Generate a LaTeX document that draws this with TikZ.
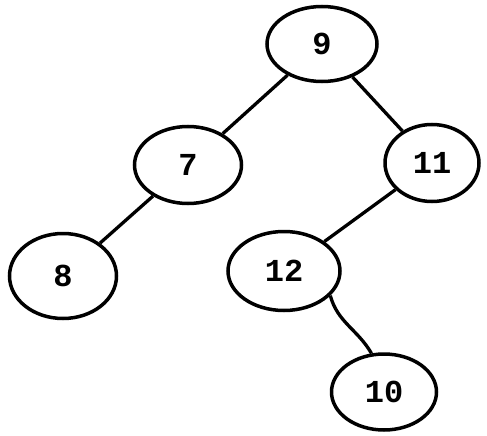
\documentclass[tikz,border=0pt]{standalone}
\usepackage{fontspec}
\newfontfamily\labfont{Liberation Mono}
\usetikzlibrary{shapes.geometric}
\begin{document}
\begin{tikzpicture}[x=1pt,y=-1pt,
  tnode/.style={draw, ellipse, line width=3.5pt, inner sep=0pt,
    font=\labfont\bfseries\fontsize{32}{32}\selectfont},
  tedge/.style={line width=3.3pt}]
\useasboundingbox (0,0) rectangle (487,436);
\node[tnode, minimum width=110pt, minimum height=75pt] (n9) at (322,44) {9};
\node[tnode, minimum width=107pt, minimum height=77pt] (n7) at (188,165) {7};
\node[tnode, minimum width=94pt, minimum height=77pt] (n11) at (432,163) {11};
\node[tnode, minimum width=107pt, minimum height=85pt] (n8) at (63,276) {8};
\node[tnode, minimum width=112pt, minimum height=79pt] (n12) at (284,271) {12};
\node[tnode, minimum width=105pt, minimum height=76pt] (n10) at (384,392) {10};
\draw[tedge] (n9) -- (n7);
\draw[tedge] (n9) -- (n11);
\draw[tedge] (n7) -- (n8);
\draw[tedge] (n11) -- (n12);
\draw[tedge] (n12.-28) to[out=-75,in=120] (n10.108);
\end{tikzpicture}
\end{document}
